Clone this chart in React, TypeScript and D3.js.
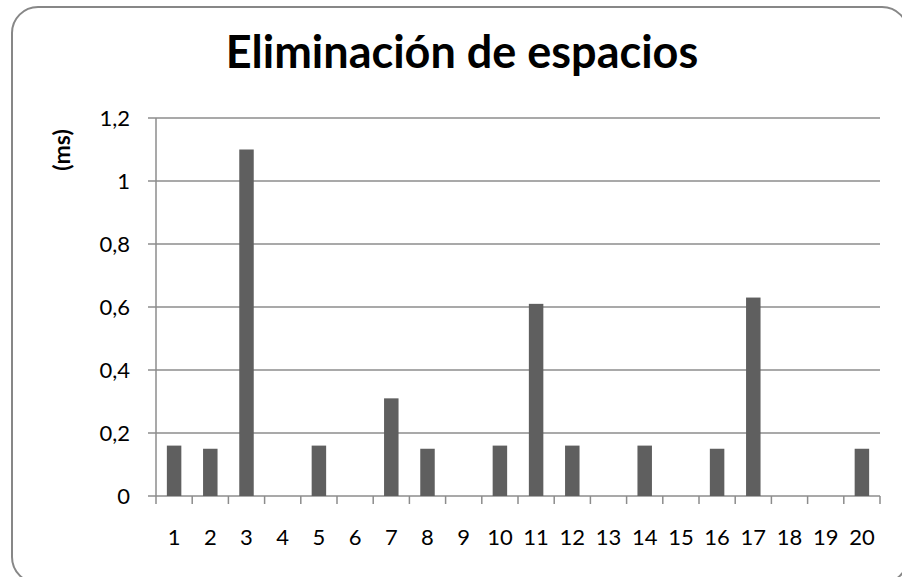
import React, { useEffect, useRef } from 'react'
import * as d3 from 'd3'

const categories = ['1', '2', '3', '4', '5', '6', '7', '8', '9', '10', '11', '12', '13', '14', '15', '16', '17', '18', '19', '20']
const values = [0.16, 0.15, 1.1, 0, 0.16, 0, 0.31, 0.15, 0, 0.16, 0.61, 0.16, 0, 0.16, 0, 0.15, 0.63, 0, 0, 0.15]
const yTicks = [0, 0.2, 0.4, 0.6, 0.8, 1, 1.2]
const title = 'Eliminación de espacios'
const yLabel = '(ms)'

const W = 902
const H = 577
const font = 'Lato, "Open Sans", sans-serif'

export default function App() {
    const ref = useRef<SVGSVGElement>(null)

    useEffect(() => {
        const svg = d3.select(ref.current)
        svg.selectAll('*').remove()

        const margin = { top: 118, right: 22, bottom: 81, left: 156 }

        const x = d3.scaleBand<string>()
            .domain(categories)
            .range([margin.left, W - margin.right])
            .paddingInner(0.6)
            .paddingOuter(0.3)

        const y = d3.scaleLinear()
            .domain([0, 1.2])
            .range([H - margin.bottom, margin.top])

        // frame (runs past the right and bottom edges)
        svg.append('rect')
            .attr('x', 12).attr('y', 7)
            .attr('width', 896).attr('height', 576)
            .attr('rx', 26)
            .attr('fill', 'white')
            .attr('stroke', '#878787')
            .attr('stroke-width', 2)

        svg.append('text')
            .attr('x', 462).attr('y', 68)
            .attr('text-anchor', 'middle')
            .style('font-family', font)
            .style('font-weight', 'bold')
            .style('font-size', '45px')
            .text(title)

        // gridlines
        svg.append('g')
            .selectAll('line')
            .data(yTicks)
            .join('line')
            .attr('x1', margin.left - 8)
            .attr('x2', W - margin.right)
            .attr('y1', d => y(d)).attr('y2', d => y(d))
            .attr('stroke', '#8c8c8c')
            .attr('stroke-width', 1.5)

        svg.append('g')
            .selectAll('text')
            .data(yTicks)
            .join('text')
            .attr('x', 130)
            .attr('y', d => y(d) + 8)
            .attr('text-anchor', 'end')
            .style('font-family', font)
            .style('font-size', '22px')
            .text(d => d3.format('~g')(d).replace('.', ','))

        // y axis line
        svg.append('line')
            .attr('x1', margin.left).attr('x2', margin.left)
            .attr('y1', y(1.2)).attr('y2', y(0))
            .attr('stroke', '#8c8c8c').attr('stroke-width', 1.5)

        // x ticks between categories
        const slot = (W - margin.right - margin.left) / categories.length
        svg.append('g')
            .selectAll('line')
            .data(d3.range(categories.length + 1))
            .join('line')
            .attr('x1', i => margin.left + i * slot)
            .attr('x2', i => margin.left + i * slot)
            .attr('y1', y(0)).attr('y2', y(0) + 8)
            .attr('stroke', '#8c8c8c').attr('stroke-width', 1.5)

        svg.append('g')
            .selectAll('rect')
            .data(values)
            .join('rect')
            .attr('x', (d, i) => x(categories[i])!)
            .attr('width', x.bandwidth())
            .attr('y', d => y(d))
            .attr('height', d => y(0) - y(d))
            .attr('fill', '#5f5f5f')

        svg.append('g')
            .selectAll('text')
            .data(categories)
            .join('text')
            .attr('x', d => x(d)! + x.bandwidth() / 2)
            .attr('y', 545)
            .attr('text-anchor', 'middle')
            .style('font-family', font)
            .style('font-size', '22px')
            .text(d => d)

        svg.append('text')
            .attr('transform', `translate(70, 150) rotate(-90)`)
            .attr('text-anchor', 'middle')
            .style('font-family', font)
            .style('font-weight', 'bold')
            .style('font-size', '23px')
            .text(yLabel)
    }, [])

    return (
        <svg ref={ref} width={W} height={H}
            style={{ position: 'absolute', left: 0, top: 0, display: 'block' }}>
        </svg>
    )
}
